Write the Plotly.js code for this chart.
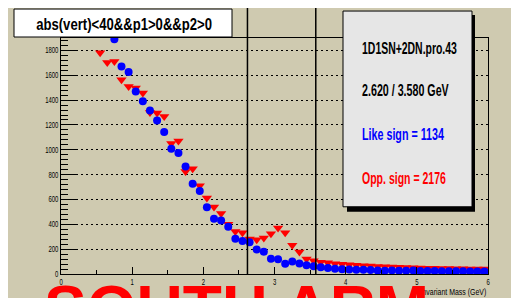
<!DOCTYPE html>
<html><head><meta charset="utf-8">
<script src="https://cdn.plot.ly/plotly-3.0.1.min.js"></script>
<style>
html,body{margin:0;padding:0;background:#fff;width:527px;height:298px;overflow:hidden;}
#chart{position:absolute;left:8px;top:8px;width:503px;height:290px;}
</style></head><body><div id="chart"></div>
<script>
// Opposite-sign pairs (red down-triangles)
const oppX = [0.55,0.65,0.75,0.85,0.95,1.05,1.15,1.25,1.35,1.45,1.55,1.65,1.75,1.85,1.95,2.05,2.15,2.25,2.35,2.45,2.55,2.65,2.75,2.85,2.95,3.05,3.15,3.25,3.35,3.45,3.55,3.65,3.75,3.85,3.95,4.05,4.15,4.25,4.35,4.45,4.55,4.65,4.75,4.85,4.95,5.05,5.15,5.25,5.35,5.45,5.55,5.65,5.75,5.85,5.95];
const oppY = [1781,1703,1711,1564,1510,1497,1457,1300,1296,1269,1050,1070,825,848,711,612,539,487,400,343,332,282,276,290,325,370,332,232,178,121,107,95,90,82,78,74,70,67,64,60,58,56,54,52,50,48,47,46,45,44,43,42,41,40,40];
// Like-sign pairs (blue circles)
const likeX = [0.75,0.85,0.95,1.05,1.15,1.25,1.35,1.45,1.55,1.65,1.75,1.85,1.95,2.05,2.15,2.25,2.35,2.45,2.55,2.65,2.75,2.85,2.95,3.05,3.15,3.25,3.35,3.45,3.55,3.65,3.75,3.85,3.95,4.05,4.15,4.25,4.35,4.45,4.55,4.65,4.75,4.85,4.95,5.05,5.15,5.25,5.35,5.45,5.55,5.65,5.75,5.85,5.95];
const likeY = [1890,1671,1626,1470,1390,1317,1235,1143,1009,974,866,727,668,538,444,430,380,284,266,256,198,180,122,118,82,101,85,71,62,55,48,42,38,36,35,34,33,28,27,29,27,26,28,24,24,25,23,22,23,22,21,21,21];
// Mass window cuts (GeV)
const cuts = [2.62, 3.58];
const xRange = [0, 6];
const yRange = [0, 1900];
const titleText = "abs(vert)<40&&p1>0&&p2>0";
const statLines = ["1D1SN+2DN.pro.43", "2.620 / 3.580 GeV", "Like sign = 1134", "Opp. sign = 2176"];
const statColors = ["#000000", "#000000", "#0000FF", "#FF0000"];
const xTitle = "Invariant Mass (GeV)";
const bigText = "SOUTH ARM";

// page pixel -> paper coordinates (plot area: x 61..488, y 38..274.3 on page)
const PL = 61, PR = 488, PT = 38.0, PB = 274.3;
const px = X => (X - PL) / (PR - PL);
const py = Y => (PB - Y) / (PB - PT);

const sans = "Liberation Sans, Arial, Helvetica, sans-serif";

const traces = [
  {x: oppX, y: oppY, type: 'scatter', mode: 'markers', name: 'Opp',
   marker: {symbol: 'triangle-down', size: 9, color: '#FF0000'}, cliponaxis: true},
  {x: likeX, y: likeY, type: 'scatter', mode: 'markers', name: 'Like',
   marker: {symbol: 'circle', size: 8, color: '#0000FF'}, cliponaxis: true}
];

const shapes = [];
cuts.forEach(c => shapes.push({type: 'line', xref: 'paper', yref: 'paper',
  x0: (c - xRange[0]) / (xRange[1] - xRange[0]), x1: (c - xRange[0]) / (xRange[1] - xRange[0]),
  y0: 0, y1: py(8), line: {color: '#000', width: 1.5}}));
shapes.push({type: 'rect', xref: 'paper', yref: 'paper', x0: px(14), x1: px(232), y0: py(37), y1: py(9),
  fillcolor: '#FFFFFF', line: {color: '#000', width: 1}});
shapes.push({type: 'rect', xref: 'paper', yref: 'paper', x0: px(347), x1: px(475), y0: py(212), y1: py(15),
  fillcolor: '#000000', line: {width: 0}});
shapes.push({type: 'rect', xref: 'paper', yref: 'paper', x0: px(343), x1: px(472), y0: py(207), y1: py(11),
  fillcolor: '#E6E6E6', line: {color: '#000', width: 1}});

// squeeze: [anchor, target width in px] for condensed-looking ROOT text
const annotations = [];
const squeeze = [];
annotations.push({text: titleText, xref: 'paper', yref: 'paper', x: px(123.5), y: py(24.5), xanchor: 'center', yanchor: 'middle',
  showarrow: false, font: {family: sans, size: 17, color: '#000', weight: 'bold'}});
squeeze.push(['center', 176]);
annotations.push({text: xTitle, xref: 'paper', yref: 'paper', x: px(488), y: py(292.5), xanchor: 'right', yanchor: 'middle',
  showarrow: false, font: {family: sans, size: 8.5, color: '#000'}});
squeeze.push(['right', 66]);
const statY = [48.5, 91, 135, 178.5];
const statW = [95, 87, 82, 84];
statLines.forEach((t, i) => {
  annotations.push({text: t, xref: 'paper', yref: 'paper', x: px(360), y: py(statY[i]),
    xanchor: 'left', yanchor: 'middle', showarrow: false,
    font: {family: sans, size: 16, color: statColors[i], weight: 'bold'}});
  squeeze.push(['left', statW[i]]);
});
annotations.push({text: '<b>' + bigText + '</b>', xref: 'paper', yref: 'paper', x: px(236.5), y: py(271),
  xanchor: 'center', yanchor: 'top', showarrow: false,
  font: {family: sans, size: 64, color: '#FF0000'}});
squeeze.push(null);

const tan = '#CFCAB0';
const layout = {
  width: 503, height: 290,
  margin: {l: 53, r: 23, t: 30, b: 24, pad: 0},
  paper_bgcolor: tan, plot_bgcolor: tan,
  showlegend: false,
  xaxis: {range: xRange, dtick: 1, tick0: 0, ticks: 'inside', ticklen: 7, tickwidth: 1, tickcolor: '#000',
    minor: {ticks: 'inside', ticklen: 4, dtick: 0.5, tickcolor: '#000', tickwidth: 1},
    showgrid: false, zeroline: false, showline: true, linecolor: '#000', linewidth: 1, mirror: true,
    tickfont: {family: sans, size: 8.5, color: '#000'}},
  yaxis: {range: yRange, dtick: 200, tick0: 0, ticks: 'inside', ticklen: 15, tickwidth: 1, tickcolor: '#000',
    minor: {ticks: 'inside', ticklen: 7, dtick: 40, tickcolor: '#000', tickwidth: 1},
    showgrid: true, gridcolor: '#000', gridwidth: 1, griddash: '2px,3px',
    zeroline: false, showline: true, linecolor: '#000', linewidth: 1, mirror: true,
    tickfont: {family: sans, size: 8.5, color: '#000'}},
  shapes: shapes,
  annotations: annotations
};

function hscale(el, anchor, s) {
  const b = el.getBBox();
  const ax = anchor === 'left' ? b.x : anchor === 'right' ? b.x + b.width : b.x + b.width / 2;
  const prev = el.getAttribute('transform') || '';
  el.setAttribute('transform', prev + ' translate(' + ax + ',0) scale(' + s + ',1) translate(' + (-ax) + ',0)');
}

Plotly.newPlot('chart', traces, layout, {displayModeBar: false, staticPlot: true}).then(gd => {
  const anns = gd.querySelectorAll('.annotation');
  anns.forEach((a, i) => {
    const sq = squeeze[i];
    if (!sq) return;
    const t = a.querySelector('text');
    if (!t) return;
    const w = t.getBBox().width;
    if (w > 0) hscale(t, sq[0], sq[1] / w);
  });
  gd.querySelectorAll('.ytick text').forEach(t => hscale(t, 'right', 0.7));
  gd.querySelectorAll('.xtick text').forEach(t => hscale(t, 'center', 0.7));
});
</script></body></html>
